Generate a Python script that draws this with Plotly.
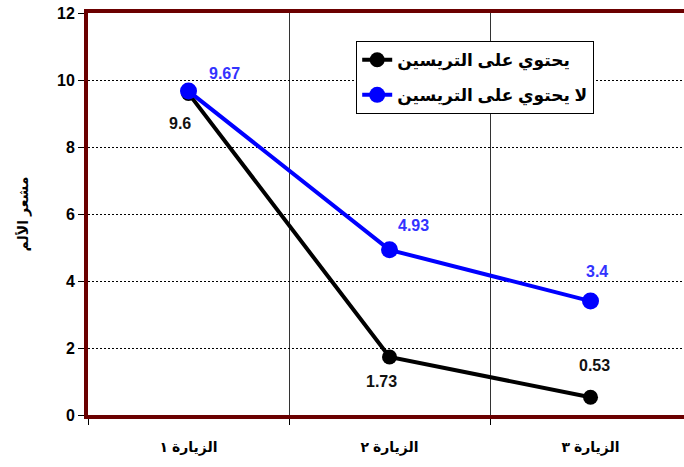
import plotly.graph_objects as go

categories = ["الزيارة ١", "الزيارة ٢", "الزيارة ٣"]
with_tr = [9.6, 1.73, 0.53]
without_tr = [9.67, 4.93, 3.4]
name_with = "يحتوي على التريسين"
name_without = "لا يحتوي على التريسين"
y_title = "مشعر الألم"
y_ticks = [0, 2, 4, 6, 8, 10, 12]

FONT = "Arial, DejaVu Sans, sans-serif"
BLUE = "#0000ff"
LBLUE = "#3333ff"

fig = go.Figure()
fig.add_trace(go.Scatter(x=categories, y=with_tr, name=f"<b>{name_with}</b>", mode="lines+markers",
                         legendgroup="a",
                         line=dict(color="black", width=4),
                         marker=dict(color="black", size=15)))
fig.add_trace(go.Scatter(x=categories, y=without_tr, name=f"<b>{name_without}</b>", mode="lines+markers",
                         legendgroup="b",
                         line=dict(color=BLUE, width=4),
                         marker=dict(color=BLUE, size=17)))

# data labels
black_off = [(-9, -30), (-8, -24), (4, 32)]
blue_off = [(36, 18), (24, 24), (6, 30)]
for i, c in enumerate(categories):
    fig.add_annotation(x=c, y=with_tr[i], text=f"<b>{with_tr[i]:g}</b>", showarrow=False,
                       xshift=black_off[i][0], yshift=black_off[i][1],
                       font=dict(family=FONT, size=16, color="#111111"))
    fig.add_annotation(x=c, y=without_tr[i], text=f"<b>{without_tr[i]:g}</b>", showarrow=False,
                       xshift=blue_off[i][0], yshift=blue_off[i][1],
                       font=dict(family=FONT, size=16, color=LBLUE))

fig.update_layout(
    width=684, height=467,
    margin=dict(l=88, r=0, t=13, b=52),
    paper_bgcolor="white", plot_bgcolor="white",
    font=dict(family=FONT, color="black"),
    showlegend=True,
    legend=dict(x=0.45, y=0.93, xanchor="left", yanchor="top",
                bgcolor="white", bordercolor="black", borderwidth=1,
                font=dict(family=FONT, size=17, color="black"),
                traceorder="grouped", tracegroupgap=10),
    xaxis=dict(type="category", range=[-0.5, 2.465], tickson="boundaries",
               ticks="outside", ticklen=6, tickcolor="black",
               showgrid=True, gridcolor="#333333", gridwidth=1,
               showline=True, linecolor="#6b0000", linewidth=4, mirror=True,
               ticklabelstandoff=16,
               tickfont=dict(family=FONT, size=14, color="black"),
               tickvals=categories, ticktext=[f"<b>{c}</b>" for c in categories]),
    yaxis=dict(range=[0, 12], tickvals=y_ticks, ticks="outside", ticklen=6, tickcolor="black",
               showgrid=True, gridcolor="black", gridwidth=1, griddash="2px,2px",
               showline=True, linecolor="#6b0000", linewidth=4,
               zeroline=False,
               tickfont=dict(family=FONT, size=16, color="black"),
               ticktext=[f"<b>{t}</b>" for t in y_ticks],
               title=dict(text=f"<b>{y_title}</b>", font=dict(family=FONT, size=14, color="black"),
                          standoff=26)),
)

fig.write_html("out.html")
